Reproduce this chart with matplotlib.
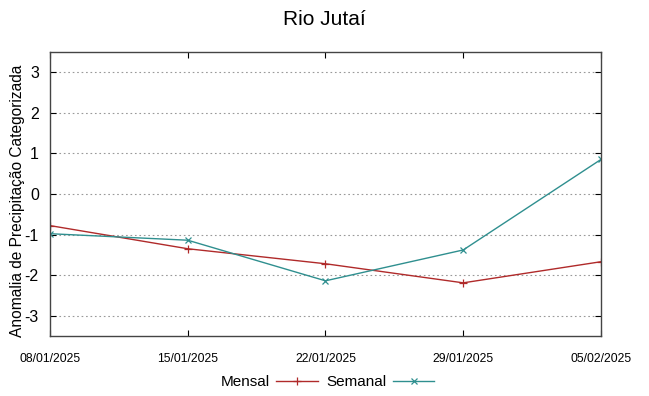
import matplotlib
matplotlib.use("Agg")
import matplotlib.pyplot as plt

dates = ["08/01/2025", "15/01/2025", "22/01/2025", "29/01/2025", "05/02/2025"]
mensal = [-0.78, -1.35, -1.72, -2.19, -1.67]
semanal = [-0.98, -1.14, -2.14, -1.38, 0.85]
yticks = [-3, -2, -1, 0, 1, 2, 3]

plt.rcParams['font.family'] = ['Liberation Sans', 'DejaVu Sans']

fig = plt.figure(figsize=(6.49, 3.96), dpi=100)
ax = fig.add_axes([0.077, 0.1515, 0.849, 0.7175])
x = list(range(len(dates)))
ax.plot(x, mensal, color='#b02a2a', lw=1.0, marker='+', ms=6, mew=0.9, label='Mensal')
ax.plot(x, semanal, color='#2f8f8f', lw=1.0, marker='x', ms=5, mew=0.9, label='Semanal')
ax.set_xlim(0, len(dates) - 1)
ax.set_ylim(-3.5, 3.5)
ax.set_xticks(x)
ax.set_xticklabels(dates, fontsize=8.7)
ax.set_yticks(yticks)
ax.set_yticklabels([str(v) for v in yticks], fontsize=11.5)
ax.yaxis.grid(True, linestyle=(0, (1.5, 2.5)), color='#999999', lw=0.8)
ax.tick_params(direction='in', top=True, right=True, length=4, color='black')
ax.tick_params(axis='x', pad=12)
ax.tick_params(axis='y', pad=8)
for s in ax.spines.values():
    s.set_color('#444444')
    s.set_linewidth(1.0)
fig.text(18 / 649, 1 - 201 / 396, 'Anomalia de Precipitação Categorizada', fontsize=11.2,
         rotation=90, ha='center', va='center')
fig.suptitle('Rio Jutaí', fontsize=15, y=0.975)
leg = fig.legend(loc='center', bbox_to_anchor=(0.505, 0.035), ncol=2, frameon=False,
                 fontsize=11, markerfirst=False, handlelength=2.7, columnspacing=0.6,
                 handletextpad=0.4)
fig.savefig('out.png', dpi=100)
